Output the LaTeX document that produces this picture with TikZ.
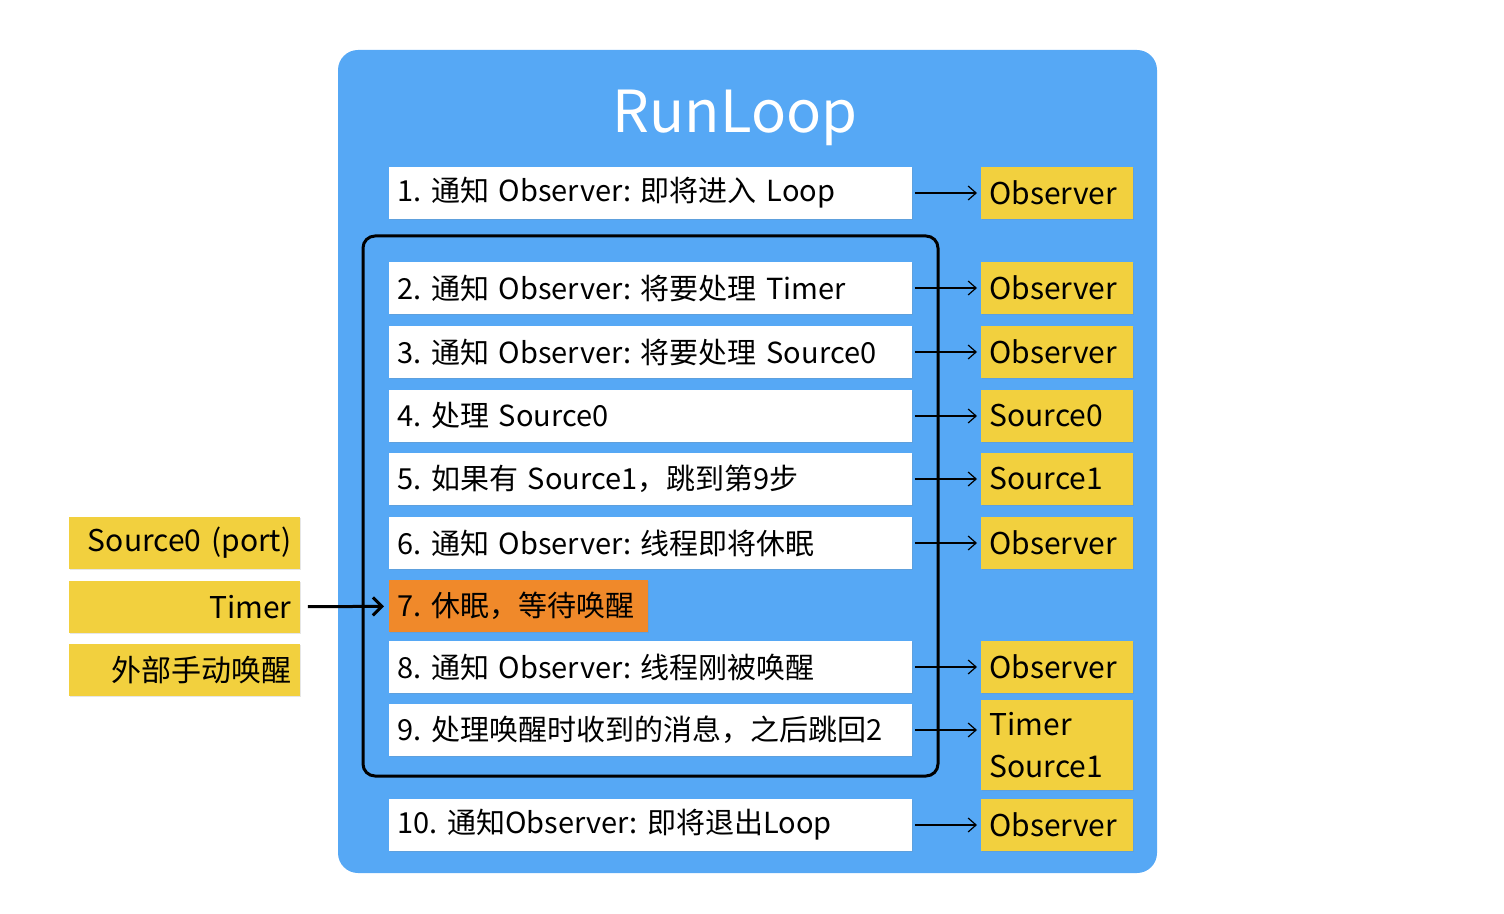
\documentclass[tikz,border=0pt]{standalone}
\usepackage{fontspec}
\setmainfont{Noto Sans CJK SC}
\usepackage{tikz}
\usetikzlibrary{positioning, arrows.meta, shadows}
\frenchspacing
\definecolor{loopblue}{RGB}{86,168,245}
\definecolor{obsyellow}{RGB}{242,208,62}
\definecolor{sleeporange}{RGB}{240,137,42}
\tikzstyle{arrow} = [-{Straight Barb[length=4pt,width=7pt]},line width=0.6pt,shorten <=1pt,shorten >=2pt]
\tikzstyle{wakearrow} = [-{Straight Barb[length=4.5pt,width=9pt]},line width=1.5pt,shorten <=3.5pt,shorten >=2.5pt]
\tikzstyle{stepbox} = [fill=white, anchor=west, minimum height=26pt, inner xsep=4pt, inner ysep=0pt, text width=253.5pt, align=left, font=\fontsize{14.5}{18}\selectfont, drop shadow={opacity=0.2,shadow xshift=0.4pt,shadow yshift=-0.6pt}]
\tikzstyle{obsbox} = [fill=obsyellow, anchor=west, minimum height=26pt, inner xsep=4pt, inner ysep=0pt, text width=68pt, align=left, font=\fontsize{15}{18}\selectfont, drop shadow={opacity=0.2,shadow xshift=0.4pt,shadow yshift=-0.6pt}]
\tikzstyle{srcbox} = [fill=obsyellow, anchor=west, minimum height=26pt, inner xsep=4.5pt, inner ysep=0pt, text width=106.5pt, align=right, font=\fontsize{15}{18}\selectfont, drop shadow={opacity=0.2,shadow xshift=0.4pt,shadow yshift=-0.6pt}]

\begin{document}
\begin{tikzpicture}[x=0.5pt,y=-0.5pt]
        \useasboundingbox (0,0) rectangle (1504,914);
        % RunLoop background
        \fill[loopblue, rounded corners=10pt] (338,50) rectangle (1157,873);
        \node[white, font=\fontsize{29}{34}\selectfont] (title) at (735,118) {RunLoop};
        % loop frame
        \draw[line width=1.5pt, rounded corners=6pt] (363,236) rectangle (938,776);
        % steps and what they notify
        \foreach \y/\n/\txt/\obs in {193/1/{1. 通知 Observer: 即将进入 Loop}/Observer,
                                     288/2/{2. 通知 Observer: 将要处理 Timer}/Observer,
                                     352/3/{3. 通知 Observer: 将要处理 Source0}/Observer,
                                     416/4/{4. 处理 Source0}/Source0,
                                     479/5/{5. 如果有 Source1，跳到第9步}/Source1,
                                     543/6/{6. 通知 Observer: 线程即将休眠}/Observer,
                                     667/8/{8. 通知 Observer: 线程刚被唤醒}/Observer,
                                     825/10/{10. 通知Observer: 即将退出Loop}/Observer} {
            \node[stepbox] (s\n) at (389,\y) {\txt};
            \node[obsbox] (o\n) at (981,\y) {\obs};
            \draw[arrow] (s\n) -- (o\n);
        }
        \node[stepbox] (s9) at (389,730) {9. 处理唤醒时收到的消息，之后跳回2};
        \node[obsbox, minimum height=45pt, font=\fontsize{15}{21}\selectfont] (o9) at (981,745) {Timer\\Source1};
        \draw[arrow] (s9.east) -- (s9.east -| o9.west);
        % sleep
        \node[stepbox, fill=sleeporange, text width=121.5pt, align=left] (s7) at (389,606) {\mbox{7. 休眠，等待唤醒}};
        % wake up sources
        \node[srcbox] (port) at (69,543) {Source0 (port)};
        \node[srcbox] (timer) at (69,607) {Timer};
        \node[srcbox] (manual) at (69,670) {外部手动唤醒};
        \draw[wakearrow] (timer) -- (s7);
\end{tikzpicture}
\end{document}
